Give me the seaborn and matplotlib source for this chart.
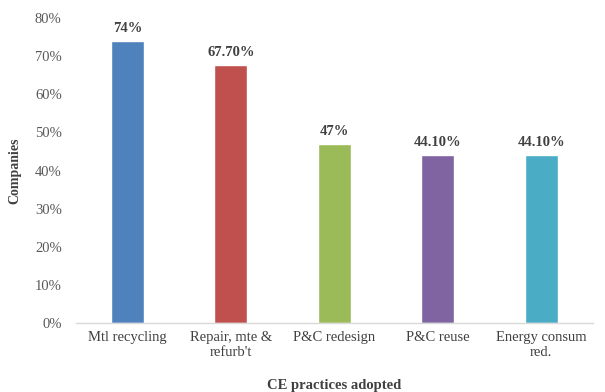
import matplotlib
matplotlib.use("Agg")
import matplotlib.pyplot as plt
import seaborn as sns
import pandas as pd
from matplotlib.ticker import FuncFormatter

categories = ["Mtl recycling", "Repair, mte &\nrefurb't", "P&C redesign", "P&C reuse", "Energy consum\nred."]
values = [74.0, 67.7, 47.0, 44.1, 44.1]
value_labels = ["74%", "67.70%", "47%", "44.10%", "44.10%"]
colors = ["#4F81BD", "#C0504D", "#9BBB59", "#8064A2", "#4BACC6"]
yticks = [0, 10, 20, 30, 40, 50, 60, 70, 80]

sns.set_theme(style="white")
plt.rcParams['font.family'] = ['Liberation Serif', 'DejaVu Serif']

df = pd.DataFrame({"cat": categories, "val": values})

fig = plt.figure(figsize=(6.05, 3.92), dpi=100)
ax = fig.add_axes([0.125, 0.176, 0.855, 0.778])
sns.barplot(data=df, x="cat", y="val", hue="cat", palette=colors, legend=False,
            width=0.32, ax=ax, saturation=1)

ax.set_ylim(0, 80)
ax.set_xlim(-0.5, 4.5)
ax.set_yticks(yticks)
ax.yaxis.set_major_formatter(FuncFormatter(lambda v, p: f"{int(v)}%"))
ax.tick_params(axis='both', colors="#595959", labelsize=10.5, length=0)
ax.tick_params(axis='y', pad=10)
ax.tick_params(axis='x', pad=6)
for lab in ax.get_xticklabels():
    lab.set_color("#404040")
for lab in ax.get_yticklabels():
    lab.set_color("#595959")

for s in ["top", "right", "left"]:
    ax.spines[s].set_visible(False)
ax.spines["bottom"].set_color("#D9D9D9")
ax.spines["bottom"].set_linewidth(1.0)

for i, (v, t) in enumerate(zip(values, value_labels)):
    ax.text(i, v + 1.5, t, ha="center", va="bottom", fontsize=10.5, fontweight="bold", color="#404040")

ax.set_ylabel("Companies", fontsize=10, fontweight="bold", color="#404040", labelpad=10)
ax.set_xlabel("CE practices adopted", fontsize=10.5, fontweight="bold", color="#404040", labelpad=14)

fig.savefig("out.png", dpi=100)
